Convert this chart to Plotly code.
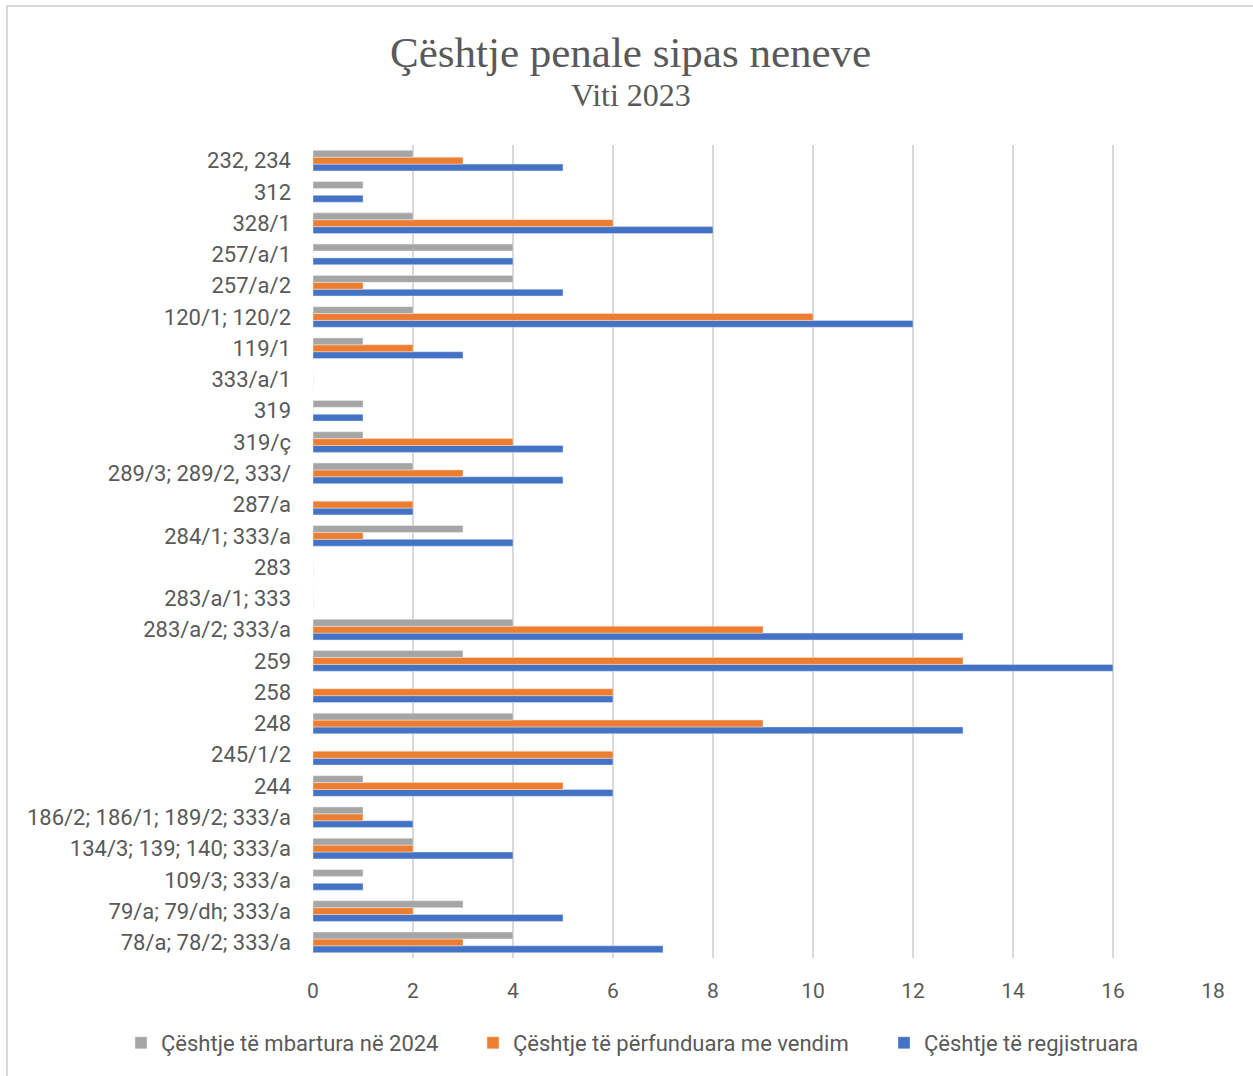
import plotly.graph_objects as go

# Categories listed bottom-to-top
categories = [
    "78/a; 78/2; 333/a",
    "79/a; 79/dh; 333/a",
    "109/3; 333/a",
    "134/3; 139; 140; 333/a",
    "186/2; 186/1; 189/2; 333/a",
    "244",
    "245/1/2",
    "248",
    "258",
    "259",
    "283/a/2; 333/a",
    "283/a/1; 333",
    "283",
    "284/1; 333/a",
    "287/a",
    "289/3; 289/2, 333/",
    "319/ç",
    "319",
    "333/a/1",
    "119/1",
    "120/1; 120/2",
    "257/a/2",
    "257/a/1",
    "328/1",
    "312",
    "232, 234",
]

mbartura = [4, 3, 1, 2, 1, 1, 0, 4, 0, 3, 4, 0, 0, 3, 0, 2, 1, 1, 0, 1, 2, 4, 4, 2, 1, 2]
perfunduara = [3, 2, 0, 2, 1, 5, 6, 9, 6, 13, 9, 0, 0, 1, 2, 3, 4, 0, 0, 2, 10, 1, 0, 6, 0, 3]
regjistruara = [7, 5, 1, 4, 2, 6, 6, 13, 6, 16, 13, 0, 0, 4, 2, 5, 5, 1, 0, 3, 12, 5, 4, 8, 1, 5]

x_ticks = [0, 2, 4, 6, 8, 10, 12, 14, 16, 18]

name_gray = "Çështje të mbartura në 2024"
name_orange = "Çështje të përfunduara me vendim"
name_blue = "Çështje të regjistruara"

label_font = "Liberation Sans Narrow, Roboto, Arial, sans-serif"
serif_font = "Liberation Serif, Times New Roman, serif"
text_color = "#595959"

W, H = 1253, 1076
L, R, T, B = 313, 40, 145, 118
pw, ph = W - L - R, H - T - B


def px_x(p):
    return (p - L) / pw


def px_y(p):
    return 1 - (p - T) / ph


fig = go.Figure()
fig.add_trace(go.Bar(y=categories, x=regjistruara, orientation="h", name=name_blue,
                     legend="legend3",
                     marker=dict(color="#4472C4", line=dict(width=0.5, color="#dce6f5"))))
fig.add_trace(go.Bar(y=categories, x=perfunduara, orientation="h", name=name_orange,
                     legend="legend2",
                     marker=dict(color="#ED7D31", line=dict(width=0.5, color="#fbe0cf"))))
fig.add_trace(go.Bar(y=categories, x=mbartura, orientation="h", name=name_gray,
                     legend="legend",
                     marker=dict(color="#A5A5A5", line=dict(width=0.5, color="#ececec"))))

leg_common = dict(orientation="h", xanchor="left", yanchor="middle", y=px_y(1043),
                  font=dict(size=22, family=label_font, color=text_color),
                  itemwidth=30, bgcolor="rgba(0,0,0,0)")

fig.update_layout(
    width=W, height=H,
    margin=dict(l=L, r=R, t=T, b=B),
    paper_bgcolor="white", plot_bgcolor="white",
    barmode="group", bargap=0.34, bargroupgap=0,
    font=dict(family=label_font, color=text_color, size=22),
    showlegend=True,
    legend=dict(x=px_x(121), **leg_common),
    legend2=dict(x=px_x(473), **leg_common),
    legend3=dict(x=px_x(884), **leg_common),
    xaxis=dict(range=[0, 18], tickvals=x_ticks, showgrid=True, gridcolor="#d9d9d9",
               gridwidth=2, zeroline=False, showline=False, ticks="",
               tickfont=dict(size=21, color=text_color), ticklabelstandoff=18),
    yaxis=dict(categoryorder="array", categoryarray=categories, showgrid=False,
               showline=False, ticks="", zeroline=False,
               tickfont=dict(size=22, color=text_color), ticklabelstandoff=21),
    annotations=[
        dict(text="Çështje penale sipas neneve", xref="paper", yref="paper",
             x=px_x(630), y=px_y(52), xanchor="center", yanchor="middle",
             showarrow=False, font=dict(family=serif_font, size=43, color=text_color)),
        dict(text="Viti 2023", xref="paper", yref="paper",
             x=px_x(631), y=px_y(95), xanchor="center", yanchor="middle",
             showarrow=False, font=dict(family=serif_font, size=32, color=text_color)),
    ],
    shapes=[
        dict(type="line", xref="paper", yref="paper",
             x0=px_x(6), x1=px_x(1253), y0=px_y(6), y1=px_y(6),
             line=dict(color="#d9d9d9", width=2), layer="below"),
        dict(type="line", xref="paper", yref="paper",
             x0=px_x(7), x1=px_x(7), y0=px_y(6), y1=px_y(1076),
             line=dict(color="#d9d9d9", width=2), layer="below"),
    ],
)

fig.write_html("out.html", config={"displayModeBar": False},
               post_script="document.body.style.margin='0';")
